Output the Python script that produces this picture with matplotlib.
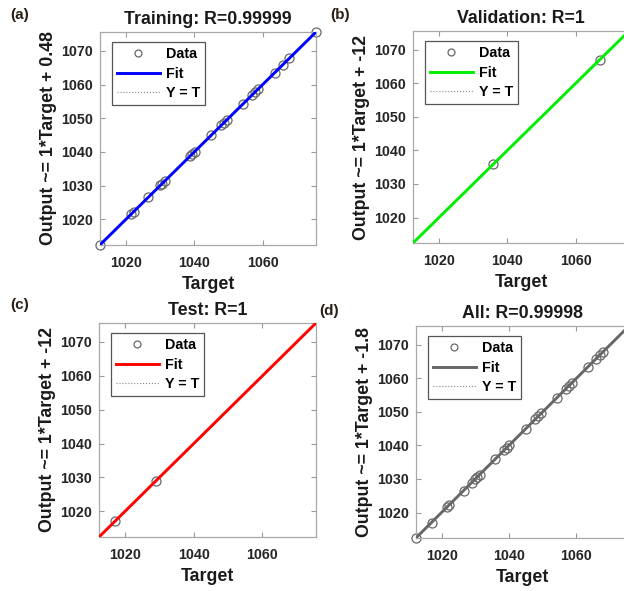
import numpy as np
import matplotlib
matplotlib.use("Agg")
import matplotlib.pyplot as plt

plt.rcParams['font.family'] = ['Liberation Sans', 'DejaVu Sans']
plt.rcParams['font.weight'] = 'bold'

# ---------------- data ----------------
train_target = [1012.4, 1021.5, 1022.3, 1026.5, 1030.0, 1030.6, 1031.3, 1038.6,
                1039.3, 1040.1, 1044.9, 1047.8, 1048.7, 1049.6, 1054.1, 1056.8,
                1057.7, 1058.6, 1063.5, 1065.9, 1067.8, 1075.6]
train_output = [1012.4, 1021.6, 1022.3, 1026.5, 1030.1, 1030.6, 1031.3, 1038.7,
                1039.3, 1040.1, 1044.9, 1047.9, 1048.7, 1049.6, 1054.1, 1056.8,
                1057.7, 1058.6, 1063.5, 1065.9, 1067.8, 1075.6]
val_target = [1035.9, 1067.1]
val_output = [1035.9, 1067.1]
test_target = [1017.0, 1028.9]
test_output = [1017.0, 1028.9]

titles = ["Training: R=0.99999", "Validation: R=1", "Test: R=1", "All: R=0.99998"]
ylabels = ["Output ~= 1*Target + 0.48", "Output ~= 1*Target + -12",
           "Output ~= 1*Target + -12", "Output ~= 1*Target + -1.8"]
panel_labels = ["(a)", "(b)", "(c)", "(d)"]
fit_colors = ["#0000ff", "#00ee00", "#ff0000", "#666666"]
x_ticks = [1020, 1040, 1060]
y_ticks = [1020, 1030, 1040, 1050, 1060, 1070]
lim = (1012.4, 1075.6)

all_target = train_target + val_target + test_target
all_output = train_output + val_output + test_output
sets = [(train_target, train_output), (val_target, val_output),
        (test_target, test_output), (all_target, all_output)]

W, H = 624, 591
fig = plt.figure(figsize=(W / 100, H / 100), dpi=100)

# axes rectangles in pixels: left, right, top, bottom
rects_px = [(100, 316, 32, 245), (413, 629, 31, 243),
            (99, 316, 323, 537), (416, 629, 326, 538)]
label_pos_px = [(10, 15), (330, 15), (10, 305), (319, 311)]

for i in range(4):
    l, r, t, b = rects_px[i]
    ax = fig.add_axes([l / W, 1 - b / H, (r - l) / W, (b - t) / H])
    tx, ty = np.array(sets[i][0]), np.array(sets[i][1])
    ax.plot(tx, ty, linestyle='none', marker='o', markersize=6.5,
            markerfacecolor='none', markeredgecolor='#686868',
            markeredgewidth=0.9, label='Data', zorder=2, clip_on=False)
    slope, inter = np.polyfit(tx, ty, 1)
    xs = np.array(lim)
    ax.plot(xs, xs, color='#888888', linestyle=':', linewidth=0.8,
            label='Y = T', zorder=1.5)
    ax.plot(xs, slope * xs + inter, color=fit_colors[i], linewidth=2.1,
            label='Fit', zorder=3)
    ax.set_xlim(lim)
    ax.set_ylim(lim)
    ax.set_xticks(x_ticks)
    ax.set_yticks(y_ticks)
    ax.tick_params(direction='in', top=True, right=True, length=3.5,
                   width=0.8, color='#999999', labelsize=10.3,
                   labelcolor='#262626')
    ax.tick_params(axis='x', pad=8)
    ax.tick_params(axis='y', pad=5)
    for lab in ax.get_xticklabels() + ax.get_yticklabels():
        lab.set_fontweight('bold')
    for sp in ax.spines.values():
        sp.set_color('#a8a8a8')
        sp.set_linewidth(0.9)
    ax.set_title(titles[i], fontsize=12.8, fontweight='bold',
                 color='#1a1a1a', pad=6)
    ax.set_xlabel("Target", fontsize=12.8, fontweight='bold',
                  color='#1a1a1a', labelpad=4)
    ax.set_ylabel(ylabels[i], fontsize=12.8, fontweight='bold',
                  color='#1a1a1a', labelpad=3)
    aw = r - l
    ah = b - t
    h, lbl = ax.get_legend_handles_labels()
    order = [lbl.index('Data'), lbl.index('Fit'), lbl.index('Y = T')]
    leg = ax.legend([h[k] for k in order], [lbl[k] for k in order],
                    loc='upper left', bbox_to_anchor=(12 / aw, 1 - 10 / ah),
                    borderaxespad=0, fancybox=False, framealpha=1,
                    edgecolor='#555555', handlelength=3.0,
                    handletextpad=0.4, labelspacing=0.4, borderpad=0.35,
                    prop={'weight': 'bold', 'size': 10.3})
    leg.get_frame().set_linewidth(0.9)
    leg.legend_handles[0].set_markersize(5)
    lx, ly = label_pos_px[i]
    fig.text(lx / W, 1 - ly / H, panel_labels[i], fontsize=11,
             fontweight='bold', color='#2a1f14', va='center', ha='left')

fig.savefig("out.png", dpi=100)
